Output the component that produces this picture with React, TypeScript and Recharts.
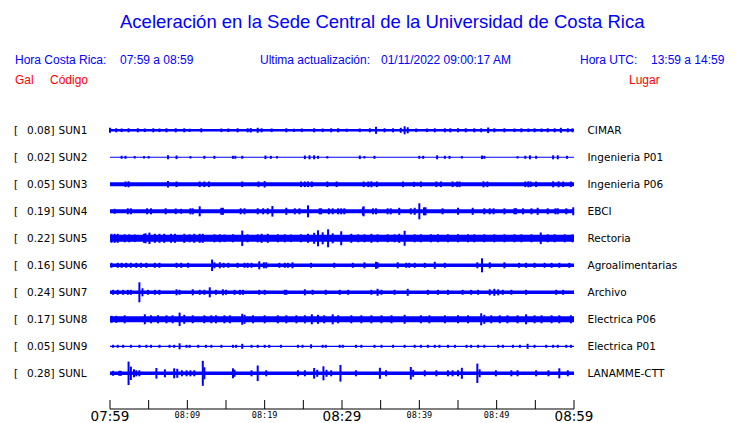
import { ComposedChart, Area, Scatter, ErrorBar, XAxis, YAxis } from "recharts";

// minutes after 07:59 (hora Costa Rica)
const minuteTicks = [0, 5, 10, 15, 20, 25, 30, 35, 40, 45, 50, 55, 60];
const timeLabels: Record<number, string> = {
    0: "07:59",
    10: "08:09",
    20: "08:19",
    30: "08:29",
    40: "08:39",
    50: "08:49",
    60: "08:59",
};

const stationCodes = ["SUN1", "SUN2", "SUN3", "SUN4", "SUN5", "SUN6", "SUN7", "SUN8", "SUN9", "SUNL"];
const peakGal = ["0.08", "0.02", "0.05", "0.19", "0.22", "0.16", "0.24", "0.17", "0.05", "0.28"];
const placeNames = [
    "CIMAR",
    "Ingenieria P01",
    "Ingenieria P06",
    "EBCI",
    "Rectoria",
    "Agroalimentarias",
    "Archivo",
    "Electrica P06",
    "Electrica P01",
    "LANAMME-CTT",
];

// background noise level of each trace (half width)
const baseNoise = [1.3, 0.5, 2, 2, 3.5, 1.8, 1.8, 3, 0.6, 1.8];

// [minute, half amplitude]
const sun1Spikes = [
    [0.0, 2.5], [0.8, 2], [1.5, 1.8], [2.4, 2], [3.6, 2], [4.5, 1.8], [5.6, 2], [6.4, 1.8], [7.3, 2], [8.5, 2],
    [9.6, 2], [10.3, 1.6], [11.8, 2], [14.4, 1.8], [15.3, 1.8], [16.5, 2], [17.8, 2], [18.2, 2.2], [19.1, 2.5],
    [19.6, 2], [20.9, 1.8], [22.8, 2], [23.8, 1.6], [24.8, 1.8], [26.4, 2], [27.5, 1.8], [28.6, 2], [29.5, 2],
    [30.6, 1.6], [32.3, 1.8], [33.6, 2], [34.4, 3.5], [35.5, 2], [36.6, 2], [37.6, 2.5], [38.1, 4], [38.5, 3],
    [39.6, 1.8], [41.0, 1.8], [42.0, 2], [43.3, 2], [44.0, 2], [45.0, 2], [46.0, 2], [47.1, 2], [48.0, 2],
    [48.9, 2.8], [49.7, 2], [51.0, 2], [52.3, 1.8], [53.2, 2], [54.1, 1.8], [54.9, 2], [55.8, 1.8], [56.6, 2],
    [57.5, 2], [58.3, 2.5], [59.2, 2], [59.8, 2],
];
const sun2Spikes = [
    [1.5, 1.5], [2.0, 1.5], [3.2, 1.2], [4.4, 1.2], [5.0, 1.2], [7.5, 2], [8.6, 1.8], [10.4, 1.2], [12.2, 1.5],
    [13.5, 1.5], [15.9, 1.5], [16.2, 1.5], [17.1, 1.5], [20.1, 1.8], [20.8, 1.5], [21.6, 1.2], [25.2, 1.8],
    [25.8, 2], [26.4, 2], [26.9, 1.5], [28.1, 1.2], [32.3, 1.8], [32.9, 1.2], [34.2, 1.5], [40.0, 1.5],
    [40.5, 1.5], [42.3, 2], [43.3, 1.5], [43.9, 1.5], [45.5, 1.2], [48.1, 1.8], [48.4, 1.5], [52.7, 1.2],
    [53.7, 1.5], [54.3, 2], [55.1, 1.5], [57.3, 2], [57.9, 2], [59.1, 1.5],
];
const sun3Spikes = [
    [2.0, 2.8], [2.4, 3], [7.5, 3.2], [8.6, 2.8], [11.6, 2.8], [12.2, 2.8], [12.8, 2.8], [17.1, 2.8], [19.2, 2.8],
    [20.0, 3.2], [24.7, 2.8], [25.2, 2.8], [25.6, 2.8], [26.1, 2.8], [28.1, 2.8], [29.3, 2.8], [32.8, 2.8],
    [33.4, 2.8], [33.8, 3], [34.5, 2.8], [37.9, 2.8], [39.3, 2.5], [40.2, 2.8], [42.2, 2.8], [42.8, 2.8],
    [44.3, 2.8], [44.9, 2.8], [45.2, 2.8], [48.3, 3], [48.8, 2.8], [53.7, 2.8], [54.1, 3], [54.4, 2.8],
    [55.1, 2.8], [57.3, 3], [58.0, 3], [58.6, 2.8], [59.6, 2.8],
];
const sun4Spikes = [
    [0.6, 2.5], [2.3, 3], [2.7, 3], [4.8, 3], [5.3, 3], [7.2, 3], [8.5, 2.8], [9.2, 2.5], [10.4, 3], [10.7, 3],
    [11.6, 5], [14.4, 3.5], [14.6, 3.5], [16.9, 3], [17.4, 3], [19.1, 3], [19.8, 3], [20.4, 3], [21.0, 5.3],
    [22.8, 3.5], [23.9, 3], [24.5, 3], [25.6, 6], [27.1, 3], [27.3, 3], [28.3, 3], [28.8, 3], [29.5, 3],
    [29.9, 3], [30.3, 3], [32.7, 4], [32.8, 5], [34.0, 3], [34.4, 3], [35.9, 3], [36.3, 3], [37.4, 3.5],
    [38.9, 3], [39.4, 3.5], [40.0, 8], [40.6, 4], [40.8, 4], [43.0, 3], [45.0, 3.5], [46.9, 3.5], [48.4, 3],
    [49.1, 3], [49.6, 3], [51.0, 3], [52.3, 3], [52.5, 3], [53.4, 3], [54.5, 3], [55.3, 3.5], [56.6, 3],
    [57.6, 3], [57.9, 3], [59.0, 3], [59.9, 4],
];
const sun5Spikes = [
    [0.2, 4.5], [0.6, 4.5], [1.0, 4.5], [1.9, 4], [2.5, 4], [3.2, 3.8], [4.4, 4.5], [4.6, 5], [5.1, 5.7],
    [5.8, 4.5], [6.4, 4.5], [7.0, 4.5], [7.9, 4.5], [8.4, 4.5], [9.6, 4.5], [10.3, 4], [10.9, 4.5], [11.6, 4.5],
    [12.0, 4.5], [13.5, 4], [14.2, 4], [14.8, 3.8], [15.9, 4], [17.1, 7.7], [17.8, 4], [19.1, 4], [19.6, 4.5],
    [20.4, 4.5], [21.7, 4], [22.6, 4], [23.4, 3.8], [24.7, 4], [25.6, 4.5], [26.4, 5.5], [26.9, 8], [27.5, 6],
    [28.2, 9], [28.8, 5], [29.9, 7], [31.2, 4.5], [32.1, 4], [32.9, 4], [33.8, 4.5], [34.6, 4], [35.9, 4],
    [36.8, 4], [37.4, 4.5], [38.1, 7.5], [39.4, 4], [40.2, 4], [41.5, 4], [42.4, 4], [43.7, 4], [45.0, 4],
    [46.3, 4], [47.1, 4], [48.4, 4], [49.7, 4], [51.0, 4], [52.3, 4], [53.2, 4], [54.5, 4], [55.7, 5.8],
    [56.6, 4], [57.5, 4], [58.8, 4], [59.8, 4],
];
const sun6Spikes = [
    [0.2, 2.5], [1.0, 2.5], [1.5, 2.5], [2.1, 2.5], [2.7, 2.5], [3.4, 2.5], [4.0, 2.5], [4.7, 2.5], [5.8, 2.5],
    [6.4, 2.5], [8.6, 2.5], [9.2, 2.5], [10.1, 2.5], [13.2, 5.7], [13.5, 3], [14.2, 3], [14.7, 2.5], [15.3, 2.5],
    [16.5, 2.5], [17.4, 2.5], [17.8, 2.5], [18.3, 2.5], [19.3, 4], [19.9, 3], [20.2, 3], [21.9, 2.5], [22.6, 2.5],
    [23.0, 2.5], [23.6, 3], [26.0, 2.5], [29.0, 2.5], [31.4, 2.5], [32.9, 3], [34.4, 3.5], [34.6, 3], [37.2, 3],
    [38.3, 2.5], [38.7, 2.5], [39.4, 2.5], [40.7, 2.5], [42.0, 3.5], [43.3, 2.5], [47.5, 3], [48.1, 7],
    [49.1, 3], [51.0, 3], [52.9, 2.5], [53.8, 2.5], [54.9, 2.5], [56.2, 2.5], [57.1, 2.5], [58.1, 2.5], [59.4, 2.5],
];
const sun7Spikes = [
    [0.4, 2.5], [1.0, 2.5], [1.7, 2.5], [2.3, 2.5], [2.7, 2.5], [3.8, 10], [4.2, 4], [4.9, 2.5], [5.8, 2.5],
    [6.4, 2.5], [8.6, 3], [9.0, 2.5], [10.7, 3], [11.6, 2.5], [12.2, 2.5], [12.9, 5], [13.7, 2.5], [14.6, 3],
    [15.0, 2.5], [16.1, 2.5], [16.8, 2.5], [17.2, 2.5], [19.3, 2.5], [20.0, 2.5], [22.6, 2.5], [22.8, 2.5],
    [25.2, 3], [26.2, 2.5], [27.9, 2.5], [29.7, 2.5], [30.8, 2.5], [33.8, 2.5], [34.6, 3.5], [35.1, 2.5],
    [36.8, 2.5], [38.5, 3.5], [41.1, 2.5], [42.4, 2.5], [43.7, 2.5], [45.6, 2.5], [46.7, 2.5], [47.6, 2.5],
    [49.1, 3], [49.7, 3.5], [50.2, 3], [50.8, 2.5], [51.9, 2.5], [53.8, 2.5], [57.7, 2.5], [58.6, 2.5],
];
const sun8Spikes = [
    [0.2, 3.5], [0.8, 3.5], [1.9, 4], [4.5, 5], [5.3, 4], [6.2, 4], [7.3, 4], [8.1, 4], [9.0, 6.7],
    [9.6, 4.5], [10.7, 4], [12.2, 4], [13.1, 4], [13.7, 4], [14.8, 4], [15.5, 4], [17.1, 5.5],
    [17.4, 4.5], [18.5, 4], [20.0, 4], [21.7, 4], [22.8, 4], [24.1, 4], [25.2, 4], [26.1, 5],
    [26.9, 4.5], [27.7, 4], [28.8, 5], [29.5, 4], [31.2, 4], [32.5, 4], [33.8, 4], [35.1, 4],
    [36.4, 4], [38.1, 4.5], [40.2, 4], [41.3, 4], [43.3, 4], [45.0, 4], [46.3, 4], [48.0, 6],
    [48.4, 4.5], [49.3, 4], [50.4, 4], [51.4, 4], [52.7, 4], [53.8, 5], [54.9, 4], [55.8, 4],
    [57.1, 4], [58.1, 4], [59.6, 4],
];
const sun9Spikes = [
    [0.4, 1.5], [1.0, 1.5], [1.7, 1.5], [2.7, 1.5], [3.8, 1.5], [4.7, 1.5], [5.3, 1.5], [6.4, 1.5], [7.7, 1.5],
    [8.3, 1.5], [9.0, 3], [9.9, 1.5], [10.3, 1.5], [11.4, 1.5], [12.4, 1.5], [13.1, 1.5], [14.4, 1.5],
    [15.9, 1.5], [16.3, 1.5], [17.1, 2.5], [18.3, 1.5], [19.1, 1.5], [20.0, 1.5], [20.6, 1.5], [22.1, 1.5],
    [24.3, 1.5], [24.9, 1.5], [26.0, 2], [27.5, 1.5], [27.9, 1.5], [29.7, 1.5], [30.1, 1.5], [31.8, 1.5],
    [32.5, 1.5], [34.2, 1.5], [35.1, 1.5], [36.6, 1.5], [38.1, 1.5], [39.4, 1.5], [40.2, 1.5], [41.1, 1.5],
    [42.0, 1.5], [42.6, 1.5], [43.7, 1.5], [44.6, 1.5], [46.1, 1.5], [46.7, 1.5], [47.6, 1.5], [48.4, 1.5],
    [50.2, 1.5], [50.8, 1.5], [52.1, 1.5], [53.0, 1.5], [54.0, 2.5], [54.9, 1.5], [56.4, 1.5], [57.3, 1.5],
    [57.9, 1.5], [59.0, 1.5], [59.6, 1.5],
];
const sunLSpikes = [
    [0.4, 2.5], [1.2, 2.5], [1.4, 2.5], [2.4, 11.7], [2.7, 6.7], [3.1, 4], [3.4, 3], [3.8, 3], [6.0, 5.3],
    [7.1, 4], [8.3, 5], [8.7, 4.5], [9.3, 3], [9.9, 3], [10.4, 3], [10.9, 3], [12.0, 12.5], [12.2, 6],
    [15.9, 5], [16.1, 3.5], [18.3, 3], [19.1, 7.8], [20.2, 3], [24.3, 3], [25.2, 3], [26.4, 5.3], [26.8, 3.5],
    [27.6, 7], [28.0, 3.5], [28.6, 3], [29.8, 8.3], [31.8, 3], [34.9, 5.5], [35.7, 3], [38.9, 6.3], [39.2, 3.5],
    [40.7, 3], [42.2, 3], [43.7, 3], [44.3, 3], [45.0, 3], [45.5, 5.5], [47.5, 9.7], [47.8, 4], [49.9, 3],
    [51.9, 3], [52.7, 3], [55.1, 3], [56.7, 3], [58.1, 5], [59.2, 3],
];
const spikeLists = [
    sun1Spikes, sun2Spikes, sun3Spikes, sun4Spikes, sun5Spikes,
    sun6Spikes, sun7Spikes, sun8Spikes, sun9Spikes, sunLSpikes,
];

const BLUE = "#0000ff";
const RED = "#ff0000";
const LANE0 = 14.3;
const LANE_STEP = 27;
const laneCenter = (i: number) => LANE0 + LANE_STEP * i;
const laneTicks = stationCodes.map((_, i) => laneCenter(i));
const laneIndex = (v: number) => Math.round((v - LANE0) / LANE_STEP);

const bandData = [0, 60].map((t) => {
    const row: Record<string, any> = { t };
    baseNoise.forEach((b, i) => {
        row[`b${i}`] = [laneCenter(i) - b, laneCenter(i) + b];
    });
    return row;
});

const StationTick = ({ y, payload }: any) => {
    const i = laneIndex(payload.value);
    return (
        <g fontFamily="DejaVu Sans" fontSize={10.5} fill="#000">
            <text x={14} y={y} dy="0.36em">[</text>
            <text x={27} y={y} dy="0.36em">{peakGal[i]}]</text>
            <text x={58.5} y={y} dy="0.36em">{stationCodes[i]}</text>
        </g>
    );
};

const PlaceTick = ({ y, payload }: any) => {
    const i = laneIndex(payload.value);
    return (
        <text x={587.5} y={y} dy="0.36em" fontFamily="DejaVu Sans" fontSize={10.5} fill="#000">
            {placeNames[i]}
        </text>
    );
};

const TimeTick = ({ x, y, payload }: any) => {
    const v = payload.value;
    const big = v % 30 === 0;
    const label = v % 10 === 0 ? timeLabels[v] : "";
    return (
        <g>
            <line x1={x} x2={x} y1={y - 9} y2={y} stroke="#000" strokeWidth={1} />
            {label && (
                <text
                    x={x}
                    y={y + (big ? 7 : 6)}
                    dy="0.36em"
                    textAnchor="middle"
                    fontFamily={big ? "DejaVu Sans" : "DejaVu Sans Mono"}
                    fontSize={big ? 13.5 : 8.5}
                    fill="#000"
                >
                    {label}
                </text>
            )}
        </g>
    );
};

const headerText = (text: string, left: number, top: number, color: string, size = 12) => (
    <div
        style={{
            position: "absolute",
            left,
            top,
            transform: "translateY(-50%)",
            color,
            fontSize: size,
            fontFamily: "Liberation Sans",
            whiteSpace: "pre",
            lineHeight: 1,
        }}
    >
        {text}
    </div>
);

export default function App() {
    return (
        <div style={{ position: "absolute", left: 0, top: 0, width: 740, height: 423, background: "#fff" }}>
            {headerText("Aceleración en la Sede Central de la Universidad de Costa Rica", 120, 22, BLUE, 18.5)}
            {headerText("Hora Costa Rica:", 15, 60, BLUE)}
            {headerText("07:59 a 08:59", 120, 60, BLUE)}
            {headerText("Ultima actualización:", 260, 60, BLUE)}
            {headerText("01/11/2022 09:00:17 AM", 381, 60, BLUE)}
            {headerText("Hora UTC:", 580, 60, BLUE)}
            {headerText("13:59 a 14:59", 651, 60, BLUE)}
            {headerText("Gal", 15, 80, RED)}
            {headerText("Código", 50, 80, RED)}
            {headerText("Lugar", 629, 80, RED)}

            <div style={{ position: "absolute", left: 0, top: 0 }}>
                <ComposedChart
                    width={740}
                    height={423}
                    data={bandData}
                    margin={{ top: 116, right: 0, bottom: 0, left: 0 }}
                >
                    <XAxis
                        type="number"
                        dataKey="t"
                        domain={[0, 60]}
                        ticks={minuteTicks}
                        allowDataOverflow
                        height={14}
                        axisLine={{ stroke: "#000", strokeWidth: 1 }}
                        tickLine={false}
                        tickSize={0}
                        tickMargin={0}
                        interval={0}
                        tick={<TimeTick />}
                    />
                    <YAxis
                        yAxisId="left"
                        type="number"
                        dataKey="y"
                        domain={[0, 293]}
                        reversed
                        allowDataOverflow
                        ticks={laneTicks}
                        interval={0}
                        width={110}
                        axisLine={false}
                        tickLine={false}
                        tick={<StationTick />}
                    />
                    <YAxis
                        yAxisId="right"
                        orientation="right"
                        type="number"
                        domain={[0, 293]}
                        reversed
                        allowDataOverflow
                        ticks={laneTicks}
                        interval={0}
                        width={166}
                        axisLine={false}
                        tickLine={false}
                        tick={<PlaceTick />}
                    />
                    {baseNoise.map((_, i) => (
                        <Area
                            key={`band${i}`}
                            yAxisId="left"
                            dataKey={`b${i}`}
                            type="linear"
                            stroke="none"
                            fill={BLUE}
                            fillOpacity={1}
                            isAnimationActive={false}
                            dot={false}
                            activeDot={false}
                        />
                    ))}
                    {spikeLists.map((list, i) => (
                        <Scatter
                            key={`spk${i}`}
                            yAxisId="left"
                            data={list.map(([t, a]) => ({ t, y: laneCenter(i), e: a }))}
                            fill={BLUE}
                            shape={() => <g />}
                            isAnimationActive={false}
                        >
                            <ErrorBar
                                dataKey="e"
                                direction="y"
                                width={0}
                                stroke={BLUE}
                                strokeWidth={2}
                                isAnimationActive={false}
                            />
                        </Scatter>
                    ))}
                </ComposedChart>
            </div>
        </div>
    );
}
